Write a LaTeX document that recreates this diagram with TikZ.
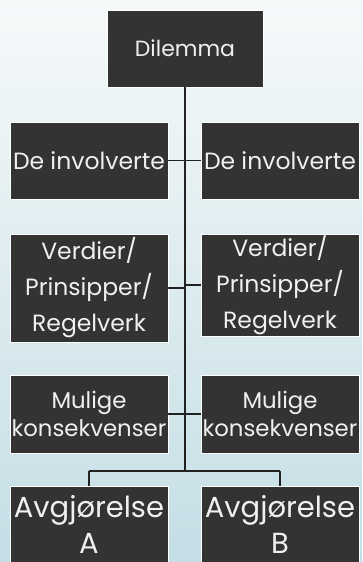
\documentclass[tikz,border=0pt]{standalone}
\usepackage{fontspec}
\setmainfont{Poppins}
\definecolor{boxfill}{HTML}{333333}
\definecolor{linecol}{HTML}{222222}
\definecolor{bgtop}{HTML}{F6F9FA}
\definecolor{bgbot}{HTML}{C4DEE5}
\begin{document}
\begin{tikzpicture}[x=1pt,y=-1pt,
  box/.style={draw=white,line width=0.8pt,fill=boxfill,text=white!94!black,
    rectangle,inner sep=0pt,align=center,font=\fontsize{23.5}{36}\selectfont},
  conn/.style={draw=linecol,line width=1.4pt}]
\clip (0,0) rectangle (362,562);
\shade[top color=bgtop,bottom color=bgbot] (0,0) rectangle (362,562);
\useasboundingbox (0,0) rectangle (362,562);
\node[box,minimum width=156pt,minimum height=77pt,font=\fontsize{22}{36}\selectfont] (dil) at (185,48.5) {Dilemma};
\node[box,minimum width=158pt,minimum height=77pt] (inv1) at (89,160.5) {De involverte};
\node[box,minimum width=158pt,minimum height=77pt] (inv2) at (280,160.5) {De involverte};
\node[box,minimum width=158pt,minimum height=108pt] (ver1) at (89,288) {Verdier/\\Prinsipper/\\Regelverk};
\node[box,minimum width=158pt,minimum height=102pt] (ver2) at (280,285) {Verdier/\\Prinsipper/\\Regelverk};
\node[box,minimum width=158pt,minimum height=78pt,font=\fontsize{22.8}{36}\selectfont] (mul1) at (89,414) {Mulige\\[-8pt]konsekvenser};
\node[box,minimum width=158pt,minimum height=78pt,font=\fontsize{22.8}{36}\selectfont] (mul2) at (280,414) {Mulige\\[-8pt]konsekvenser};
\node[box,minimum width=158pt,minimum height=76pt,font=\fontsize{29}{36}\selectfont] (avA) at (89,524) {Avgjørelse\\A};
\node[box,minimum width=158pt,minimum height=76pt,font=\fontsize{29}{36}\selectfont] (avB) at (280,524) {Avgjørelse\\B};
\coordinate (t2l) at (185,288);
\coordinate (t2r) at (185,285);
\coordinate (tb) at (185,471);
\coordinate (bl) at (89,471);
\coordinate (br) at (280,471);
\draw[conn] (dil.south) -- (tb);
\draw[conn] (inv1.east) -- (inv2.west);
\draw[conn] (ver1.east) -- (t2l);
\draw[conn] (ver2.west) -- (t2r);
\draw[conn] (mul1.east) -- (mul2.west);
\draw[conn] (bl) -- (br);
\draw[conn] (bl) -- (avA.north);
\draw[conn] (br) -- (avB.north);
\end{tikzpicture}
\end{document}
